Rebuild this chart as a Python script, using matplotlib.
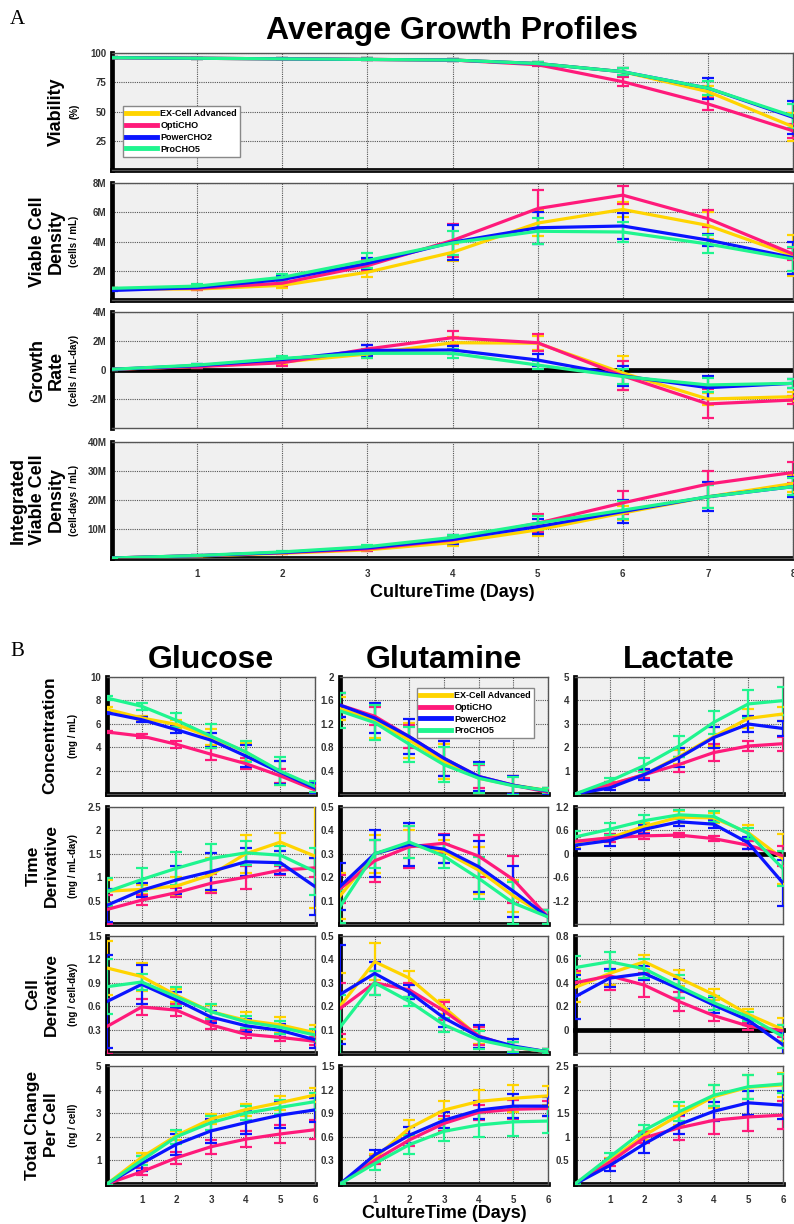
import matplotlib.pyplot as plt
from matplotlib.lines import Line2D

plt.rcParams['font.family'] = ['Liberation Sans', 'DejaVu Sans']
plt.rcParams['font.weight'] = 'bold'

media = ['EX-Cell Advanced', 'OptiCHO', 'PowerCHO2', 'ProCHO5']
colors = ['#ffd400', '#ff1a7a', '#0a14ff', '#1ff58f']

days_a = list(range(9))
days_b = list(range(7))

# ---- panel A (rows: EX-Cell, OptiCHO, PowerCHO2, ProCHO5) ----
viability = [[96, 95.5, 95, 94.5, 94, 91, 84, 67, 37],
             [96, 95.5, 95, 94.5, 94, 90, 75.5, 56.5, 33.5],
             [96, 95.5, 95, 94.5, 94, 91, 84, 70, 45],
             [96, 95.5, 95, 94.5, 94, 91, 84, 70, 46]]
viability_err = [[0.5, 0.5, 0.5, 0.8, 1, 1.5, 3, 5, 12],
                 [0.5, 0.5, 0.5, 0.8, 1, 1.5, 4, 5, 6],
                 [0.5, 0.5, 0.5, 0.8, 1, 1.5, 3, 9, 14],
                 [0.5, 0.5, 0.5, 0.8, 1, 1.5, 3, 6, 10]]

# millions of cells / mL
vcd = [[0.75, 0.75, 1.0, 1.9, 3.26, 5.26, 6.19, 5.1, 3.03],
       [0.75, 0.8, 1.15, 2.35, 4.07, 6.25, 7.17, 5.56, 3.15],
       [0.65, 0.85, 1.4, 2.5, 3.95, 4.94, 5.06, 4.1, 2.9],
       [0.8, 0.95, 1.55, 2.7, 3.9, 4.7, 4.65, 3.83, 2.8]]
vcd_err = [[0.05, 0.1, 0.15, 0.3, 0.6, 0.9, 0.5, 0.9, 1.4],
           [0.05, 0.1, 0.2, 0.4, 1.1, 1.3, 0.6, 0.6, 0.4],
           [0.05, 0.1, 0.25, 0.4, 1.2, 1.1, 0.9, 0.4, 1.1],
           [0.05, 0.15, 0.25, 0.5, 0.8, 0.9, 0.7, 0.6, 0.8]]

growth = [[0.05, 0.25, 0.55, 1.1, 1.88, 1.85, -0.2, -2.0, -1.84],
          [0.05, 0.23, 0.5, 1.45, 2.23, 1.88, -0.4, -2.34, -2.07],
          [0.05, 0.3, 0.72, 1.35, 1.38, 0.69, -0.4, -1.22, -0.92],
          [0.05, 0.34, 0.8, 1.15, 1.15, 0.34, -0.45, -1.03, -0.92]]
growth_err = [[0.05, 0.1, 0.2, 0.3, 0.4, 0.5, 1.2, 0.4, 0.3],
              [0.05, 0.1, 0.2, 0.3, 0.45, 0.6, 1.0, 1.0, 0.3],
              [0.05, 0.1, 0.2, 0.4, 0.3, 0.4, 0.7, 0.8, 0.3],
              [0.05, 0.1, 0.2, 0.3, 0.3, 0.3, 0.5, 0.5, 0.3]]

ivcd = [[0, 0.7, 1.6, 2.8, 5.3, 9.7, 15.5, 21.1, 25.7],
        [0, 0.8, 1.8, 3.1, 6.2, 12.0, 19.0, 25.5, 29.5],
        [0, 0.8, 1.9, 3.5, 6.4, 10.8, 16.0, 21.1, 24.6],
        [0, 0.85, 2.1, 3.9, 7.1, 12.0, 16.5, 21.1, 24.6]]
ivcd_err = [[0, 0.1, 0.3, 0.5, 1, 2, 2.5, 4, 3],
            [0, 0.1, 0.3, 0.6, 1.2, 3, 4, 4.5, 3.5],
            [0, 0.1, 0.3, 0.7, 1.5, 2.5, 4, 5, 3.5],
            [0, 0.1, 0.3, 0.6, 1, 2.5, 3, 4, 3]]

# ---- panel B ----
glc_conc = [[7.25, 6.5, 5.95, 4.85, 3.6, 1.8, 0.6],
            [5.3, 4.95, 4.25, 3.4, 2.6, 1.55, 0.35],
            [6.95, 6.35, 5.5, 4.6, 3.25, 1.85, 0.5],
            [8.2, 7.5, 6.3, 4.95, 3.6, 1.95, 0.65]]
glc_conc_err = [[0.15, 0.2, 0.4, 0.7, 0.8, 1.0, 0.4],
                [0.1, 0.15, 0.3, 0.5, 0.5, 0.6, 0.3],
                [0.15, 0.2, 0.3, 0.6, 0.9, 1.0, 0.4],
                [0.15, 0.3, 0.6, 1.0, 0.9, 1.2, 0.5]]
glc_time = [[0.7, 0.74, 0.81, 1.05, 1.5, 1.75, 1.45],
            [0.31, 0.51, 0.67, 0.87, 1.0, 1.15, 1.2],
            [0.4, 0.72, 0.94, 1.12, 1.33, 1.31, 0.8],
            [0.69, 0.95, 1.19, 1.4, 1.52, 1.47, 1.12]]
glc_time_err = [[0.25, 0.1, 0.2, 0.35, 0.4, 0.2, 1.1],
                [0.3, 0.1, 0.1, 0.2, 0.25, 0.1, 0.2],
                [0.35, 0.15, 0.3, 0.4, 0.3, 0.25, 0.6],
                [0.3, 0.25, 0.35, 0.3, 0.25, 0.2, 0.5]]
glc_cell = [[1.09, 0.98, 0.74, 0.53, 0.42, 0.36, 0.26],
            [0.34, 0.59, 0.55, 0.36, 0.24, 0.2, 0.15],
            [0.66, 0.88, 0.68, 0.46, 0.35, 0.29, 0.17],
            [0.85, 0.91, 0.72, 0.53, 0.4, 0.33, 0.23]]
glc_cell_err = [[0.35, 0.18, 0.08, 0.08, 0.1, 0.1, 0.1],
                [0.35, 0.1, 0.08, 0.05, 0.05, 0.05, 0.05],
                [0.6, 0.25, 0.1, 0.08, 0.08, 0.08, 0.1],
                [0.35, 0.1, 0.12, 0.1, 0.08, 0.08, 0.08]]
glc_total = [[0, 1.13, 2.05, 2.75, 3.15, 3.45, 3.77],
             [0, 0.52, 1.11, 1.58, 1.9, 2.12, 2.3],
             [0, 0.87, 1.68, 2.25, 2.6, 2.92, 3.14],
             [0, 1.0, 2.0, 2.6, 3.0, 3.25, 3.49]]
glc_total_err = [[0, 0.2, 0.2, 0.2, 0.25, 0.3, 0.3],
                 [0, 0.15, 0.25, 0.3, 0.35, 0.4, 0.4],
                 [0, 0.3, 0.45, 0.5, 0.5, 0.55, 0.5],
                 [0, 0.2, 0.3, 0.3, 0.3, 0.3, 0.35]]

gln_conc = [[1.46, 1.26, 0.92, 0.55, 0.27, 0.15, 0.06],
            [1.52, 1.33, 0.98, 0.61, 0.3, 0.15, 0.03],
            [1.52, 1.3, 0.98, 0.61, 0.3, 0.15, 0.05],
            [1.42, 1.22, 0.85, 0.5, 0.27, 0.14, 0.06]]
gln_conc_err = [[0.2, 0.3, 0.3, 0.3, 0.25, 0.15, 0.05],
                [0.2, 0.15, 0.2, 0.3, 0.2, 0.15, 0.05],
                [0.2, 0.25, 0.3, 0.3, 0.25, 0.15, 0.05],
                [0.3, 0.3, 0.3, 0.3, 0.25, 0.15, 0.05]]
gln_time = [[0.12, 0.3, 0.34, 0.31, 0.23, 0.12, 0.03],
            [0.15, 0.27, 0.33, 0.345, 0.29, 0.19, 0.03],
            [0.16, 0.3, 0.34, 0.32, 0.245, 0.14, 0.03],
            [0.074, 0.3, 0.35, 0.29, 0.195, 0.09, 0.03]]
gln_time_err = [[0.1, 0.08, 0.06, 0.05, 0.1, 0.07, 0.03],
                [0.06, 0.09, 0.09, 0.04, 0.09, 0.1, 0.03],
                [0.1, 0.1, 0.09, 0.06, 0.11, 0.11, 0.03],
                [0.07, 0.06, 0.07, 0.05, 0.09, 0.09, 0.03]]
gln_cell = [[0.2, 0.39, 0.32, 0.195, 0.07, 0.025, 0.005],
            [0.19, 0.3, 0.27, 0.18, 0.073, 0.025, 0.005],
            [0.25, 0.34, 0.26, 0.15, 0.07, 0.03, 0.005],
            [0.11, 0.3, 0.22, 0.12, 0.056, 0.025, 0.005]]
gln_cell_err = [[0.14, 0.08, 0.03, 0.03, 0.03, 0.02, 0.01],
                [0.11, 0.05, 0.03, 0.04, 0.04, 0.02, 0.01],
                [0.21, 0.05, 0.03, 0.04, 0.05, 0.03, 0.01],
                [0.14, 0.05, 0.02, 0.03, 0.04, 0.02, 0.01]]
gln_total = [[0, 0.33, 0.71, 0.94, 1.05, 1.09, 1.12],
             [0, 0.3, 0.56, 0.77, 0.91, 0.95, 0.96],
             [0, 0.37, 0.62, 0.81, 0.94, 0.99, 0.99],
             [0, 0.26, 0.5, 0.67, 0.75, 0.79, 0.8]]
gln_total_err = [[0, 0.05, 0.1, 0.12, 0.15, 0.17, 0.12],
                 [0, 0.05, 0.08, 0.09, 0.1, 0.12, 0.1],
                 [0, 0.06, 0.1, 0.1, 0.12, 0.15, 0.12],
                 [0, 0.08, 0.12, 0.12, 0.15, 0.18, 0.15]]

lac_conc = [[0, 0.4, 0.83, 1.6, 2.45, 3.23, 3.42],
            [0, 0.4, 0.83, 1.26, 1.77, 2.05, 2.15],
            [0, 0.26, 0.83, 1.55, 2.41, 2.99, 2.8],
            [0, 0.55, 1.22, 2.05, 3.06, 3.85, 3.99]]
lac_conc_err = [[0.02, 0.1, 0.2, 0.3, 0.4, 0.4, 0.3],
                [0.02, 0.1, 0.15, 0.3, 0.35, 0.2, 0.3],
                [0.02, 0.1, 0.25, 0.4, 0.45, 0.35, 0.3],
                [0.02, 0.15, 0.3, 0.45, 0.5, 0.6, 0.6]]
lac_time = [[0.3, 0.41, 0.7, 0.94, 0.92, 0.54, -0.13],
            [0.32, 0.41, 0.46, 0.48, 0.39, 0.22, -0.05],
            [0.22, 0.34, 0.63, 0.82, 0.76, 0.28, -0.75],
            [0.43, 0.63, 0.85, 1.0, 0.96, 0.52, -0.38]]
lac_time_err = [[0.15, 0.1, 0.1, 0.15, 0.12, 0.2, 0.65],
                [0.1, 0.1, 0.08, 0.05, 0.06, 0.1, 0.25],
                [0.1, 0.15, 0.12, 0.1, 0.1, 0.15, 0.6],
                [0.15, 0.15, 0.15, 0.12, 0.15, 0.15, 0.45]]
lac_cell = [[0.36, 0.48, 0.58, 0.44, 0.3, 0.13, 0.0],
            [0.4, 0.46, 0.38, 0.24, 0.12, 0.03, -0.01],
            [0.28, 0.44, 0.48, 0.35, 0.21, 0.08, -0.13],
            [0.53, 0.58, 0.52, 0.37, 0.23, 0.11, -0.06]]
lac_cell_err = [[0.12, 0.1, 0.06, 0.07, 0.05, 0.05, 0.1],
                [0.1, 0.12, 0.1, 0.08, 0.05, 0.03, 0.05],
                [0.19, 0.08, 0.06, 0.08, 0.07, 0.04, 0.1],
                [0.1, 0.08, 0.08, 0.1, 0.06, 0.04, 0.1]]
lac_total = [[0, 0.5, 1.03, 1.46, 1.85, 2.05, 2.1],
             [0, 0.46, 0.98, 1.19, 1.35, 1.42, 1.46],
             [0, 0.39, 0.85, 1.26, 1.54, 1.72, 1.67],
             [0, 0.57, 1.14, 1.53, 1.88, 2.06, 2.12]]
lac_total_err = [[0, 0.06, 0.1, 0.2, 0.25, 0.25, 0.25],
                 [0, 0.08, 0.12, 0.25, 0.3, 0.3, 0.3],
                 [0, 0.12, 0.2, 0.2, 0.2, 0.25, 0.3],
                 [0, 0.08, 0.12, 0.2, 0.22, 0.25, 0.2]]


W, H = 794, 1224
fig = plt.figure(figsize=(W / 100, H / 100), dpi=100)


def make_ax(x0, x1, y0, y1):
    return fig.add_axes([x0 / W, 1 - y1 / H, (x1 - x0) / W, (y1 - y0) / H])


def style(ax, xmax, ylim, yticks, ylabels, show_x):
    ax.set_facecolor('#f0f0f0')
    ax.set_axisbelow(True)
    ax.set_xlim(0, xmax)
    ax.set_ylim(*ylim)
    ax.set_xticks(range(1, xmax + 1))
    ax.set_yticks(yticks)
    ax.set_yticklabels(ylabels)
    if not show_x:
        ax.set_xticklabels([])
    ax.grid(True, linestyle=(0, (1, 1)), color='#555555', lw=0.8)
    ax.tick_params(length=0, labelsize=7, labelcolor='#333333', pad=4)
    ax.tick_params(axis='x', pad=8)
    for s in ['top', 'right', 'bottom']:
        ax.spines[s].set_color('#555555')
        ax.spines[s].set_linewidth(1)
    ax.spines['left'].set_color('black')
    ax.spines['left'].set_linewidth(3.4)
    ax.axhline(0, color='black', lw=3.4, clip_on=False, zorder=1.5)


def draw(ax, x, vals, errs, cap):
    for v, e, c in zip(vals, errs, colors):
        ax.errorbar(x, v, yerr=e, color=c, lw=2.3, elinewidth=1.6,
                    capsize=cap, capthick=1.6, zorder=3)


def ylabel(lines, xs, ycen, small, xsmall, size):
    for t, x in zip(lines, xs):
        fig.text(x / W, 1 - ycen / H, t, rotation=90, ha='center', va='center',
                 fontsize=size, fontweight='bold')
    fig.text(xsmall / W, 1 - ycen / H, small, rotation=90, ha='center',
             va='center', fontsize=7, fontweight='bold')


legend_handles = [Line2D([0], [0], color=c, lw=3.5) for c in colors]

# ---------------- panel A ----------------
ax_l, ax_r = 112, 793
rows_a = [(53, 170), (183, 300), (312, 428), (442, 558)]
specs_a = [
    (viability, viability_err, (0, 100), [25, 50, 75, 100], ['25', '50', '75', '100']),
    (vcd, vcd_err, (0, 8), [2, 4, 6, 8], ['2M', '4M', '6M', '8M']),
    (growth, growth_err, (-4, 4), [-2, 0, 2, 4], ['-2M', '0', '2M', '4M']),
    (ivcd, ivcd_err, (0, 40), [10, 20, 30, 40], ['10M', '20M', '30M', '40M']),
]
axes_a = []
for i, ((y0, y1), (vals, errs, ylim, yt, yl)) in enumerate(zip(rows_a, specs_a)):
    ax = make_ax(ax_l, ax_r, y0, y1)
    style(ax, 8, ylim, yt, yl, i == 3)
    draw(ax, days_a, vals, errs, 4.5)
    axes_a.append(ax)

axes_a[0].legend(legend_handles, media, loc='upper left', bbox_to_anchor=(0.016, 0.545),
                 prop={'size': 6.5, 'weight': 'bold'}, fancybox=False, edgecolor='#888888',
                 framealpha=1, handlelength=3.4, borderpad=0.35, labelspacing=0.3,
                 handletextpad=0.4, borderaxespad=0)

ylabel(['Viability'], [56], 111.5, '(%)', 74, 13)
ylabel(['Viable Cell', 'Density'], [37.5, 56], 241.5, '(cells / mL)', 74, 13)
ylabel(['Growth', 'Rate'], [37.5, 56], 370, '(cells / mL-day)', 74, 13)
ylabel(['Integrated', 'Viable Cell', 'Density'], [18.5, 37.5, 56], 500,
       '(cell-days / mL)', 74, 13)

fig.text(452 / W, 1 - 31 / H, 'Average Growth Profiles', ha='center', va='center',
         fontsize=23, fontweight='bold')
fig.text(452 / W, 1 - 592 / H, 'CultureTime (Days)', ha='center', va='center',
         fontsize=13, fontweight='bold')
fig.text(17 / W, 1 - 20 / H, 'A', ha='center', va='center', fontsize=15,
         family='Liberation Serif', fontweight='normal')

# ---------------- panel B ----------------
cols_b = [(107, 315), (340, 548), (575, 783)]
rows_b = [(677, 794), (807, 924), (936, 1053), (1066, 1184)]
specs_b = [
    [(glc_conc, glc_conc_err, (0, 10), [2, 4, 6, 8, 10]),
     (glc_time, glc_time_err, (0, 2.5), [0.5, 1, 1.5, 2, 2.5]),
     (glc_cell, glc_cell_err, (0, 1.5), [0.3, 0.6, 0.9, 1.2, 1.5]),
     (glc_total, glc_total_err, (0, 5), [1, 2, 3, 4, 5])],
    [(gln_conc, gln_conc_err, (0, 2), [0.4, 0.8, 1.2, 1.6, 2]),
     (gln_time, gln_time_err, (0, 0.5), [0.1, 0.2, 0.3, 0.4, 0.5]),
     (gln_cell, gln_cell_err, (0, 0.5), [0.1, 0.2, 0.3, 0.4, 0.5]),
     (gln_total, gln_total_err, (0, 1.5), [0.3, 0.6, 0.9, 1.2, 1.5])],
    [(lac_conc, lac_conc_err, (0, 5), [1, 2, 3, 4, 5]),
     (lac_time, lac_time_err, (-1.8, 1.2), [-1.2, -0.6, 0, 0.6, 1.2]),
     (lac_cell, lac_cell_err, (-0.2, 0.8), [0, 0.2, 0.4, 0.6, 0.8]),
     (lac_total, lac_total_err, (0, 2.5), [0.5, 1, 1.5, 2, 2.5])],
]
titles_b = ['Glucose', 'Glutamine', 'Lactate']
for c, ((x0, x1), col_specs) in enumerate(zip(cols_b, specs_b)):
    for r, ((y0, y1), (vals, errs, ylim, yt)) in enumerate(zip(rows_b, col_specs)):
        ax = make_ax(x0, x1, y0, y1)
        style(ax, 6, ylim, yt, ['%g' % v for v in yt], r == 3)
        draw(ax, days_b, vals, errs, 4)
        if c == 1 and r == 0:
            ax.legend(legend_handles, media, loc='upper left', bbox_to_anchor=(0.37, 0.906),
                      prop={'size': 6.5, 'weight': 'bold'}, fancybox=False,
                      edgecolor='#888888', framealpha=1, handlelength=3.4,
                      borderpad=0.35, labelspacing=0.3, handletextpad=0.4,
                      borderaxespad=0)
    fig.text((x0 + x1) / 2 / W, 1 - 660 / H, titles_b[c], ha='center', va='center',
             fontsize=23, fontweight='bold')

ylabel(['Concentration'], [50], 735.5, '(mg / mL)', 73, 12.5)
ylabel(['Time', 'Derivative'], [33, 51], 865.5, '(mg / mL-day)', 73, 12.5)
ylabel(['Cell', 'Derivative'], [33, 51], 994.5, '(ng / cell-day)', 73, 12.5)
ylabel(['Total Change', 'Per Cell'], [33, 51], 1125, '(ng / cell)', 73, 12.5)

fig.text(444 / W, 1 - 1213 / H, 'CultureTime (Days)', ha='center', va='center',
         fontsize=13, fontweight='bold')
fig.text(17 / W, 1 - 652 / H, 'B', ha='center', va='center', fontsize=15,
         family='Liberation Serif', fontweight='normal')

fig.savefig('out.png', dpi=100)
